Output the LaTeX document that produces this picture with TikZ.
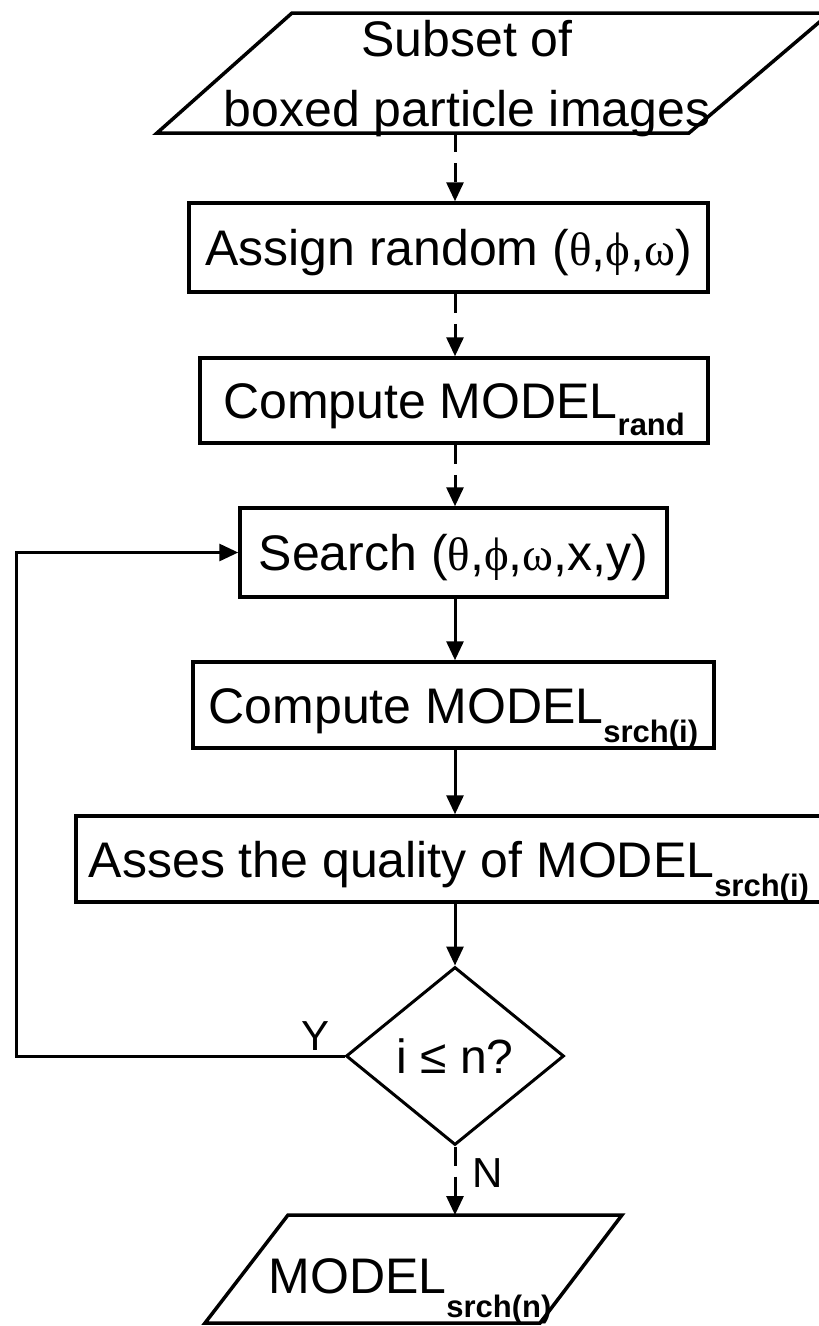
\documentclass[tikz,border=0pt]{standalone}
\usepackage{fontspec}
\setmainfont{Liberation Sans}
\newfontfamily\grkfont{Liberation Serif}
\usetikzlibrary{shapes.geometric,arrows.meta}
\newcommand{\mysub}[2][17pt]{\raisebox{-#1}{\fontsize{31}{31}\selectfont\bfseries #2}}
\newcommand{\gr}[1]{{\grkfont\fontsize{47}{47}\selectfont #1}}
\begin{document}
\begin{tikzpicture}[x=1pt,y=-1pt,
  box/.style={draw, line width=3.5pt, inner sep=0pt, text height=36pt, text depth=0pt,
              font=\fontsize{50}{60}\selectfont},
  txt/.style={inner sep=0pt, font=\fontsize{50}{70}\selectfont},
  shapeline/.style={line width=3.5pt, line join=miter},
  link/.style={line width=3pt, -{Triangle[length=19pt,width=17pt]}},
  dlink/.style={link, dash pattern=on 19pt off 11pt},
  lbl/.style={font=\fontsize{42}{42}\selectfont, inner sep=0pt, text height=30pt, text depth=0pt}]
\useasboundingbox (0,0) rectangle (819,1326);
\coordinate (spine) at (455,0);
\coordinate (loop) at (16,0);

% input parallelogram
\draw[shapeline] (292,13) -- (830,13) -- (689,133) -- (157,133) -- cycle;
\coordinate (inb) at (455,133);
\node[txt, align=center] (in) at (467,79) {Subset of\\boxed particle images};

% process boxes
\node[box, minimum width=519pt, minimum height=89pt] (assign) at (448.5,247.5)
  {Assign random (\gr{θ},\gr{ϕ},\gr{ω})};
\node[box, minimum width=508pt, minimum height=85pt] (crand) at (454,400.5)
  {Compute MODEL\mysub{rand}};
\node[box, minimum width=427pt, minimum height=89pt] (search) at (453.5,552.5)
  {Search (\gr{θ},\gr{ϕ},\gr{ω},x,y)};
\node[box, minimum width=521pt, minimum height=86pt] (csrch) at (453.5,705)
  {Compute MODEL\mysub[19pt]{srch(i)}};
\node[box, minimum width=746pt, minimum height=86pt] (asses) at (449,859)
  {Asses the quality of MODEL\mysub[19pt]{srch(i)}};

% decision
\node[draw, diamond, line width=3pt, minimum width=218pt, minimum height=178pt, inner sep=0pt,
      font=\fontsize{48}{48}\selectfont, text height=35pt, text depth=0pt] (dec) at (455,1056)
  {i ≤ n?};

% output parallelogram
\draw[shapeline] (288,1215) -- (622,1215) -- (540,1323) -- (205,1323) -- cycle;
\coordinate (outt) at (455,1215);
\node[box, draw=none] (out) at (410,1275) {MODEL\mysub[24pt]{srch(n)}};

% connectors
\draw[dlink] (inb) -- (assign.north -| spine);
\draw[dlink] (assign.south -| spine) -- (crand.north -| spine);
\draw[dlink] (crand.south -| spine) -- (search.north -| spine);
\draw[link] (search.south -| spine) -- (csrch.north -| spine);
\draw[link] (csrch.south -| spine) -- (asses.north -| spine);
\draw[link] (asses.south -| spine) -- (dec.north);
\draw[link] (dec.west) -- (dec.west -| loop) |- (search.west);
\draw[dlink] (dec.south) -- (outt);

% branch labels
\node[lbl] (ylab) at (316,1035) {Y};
\node[lbl] (nlab) at (488,1172) {N};
\end{tikzpicture}
\end{document}
